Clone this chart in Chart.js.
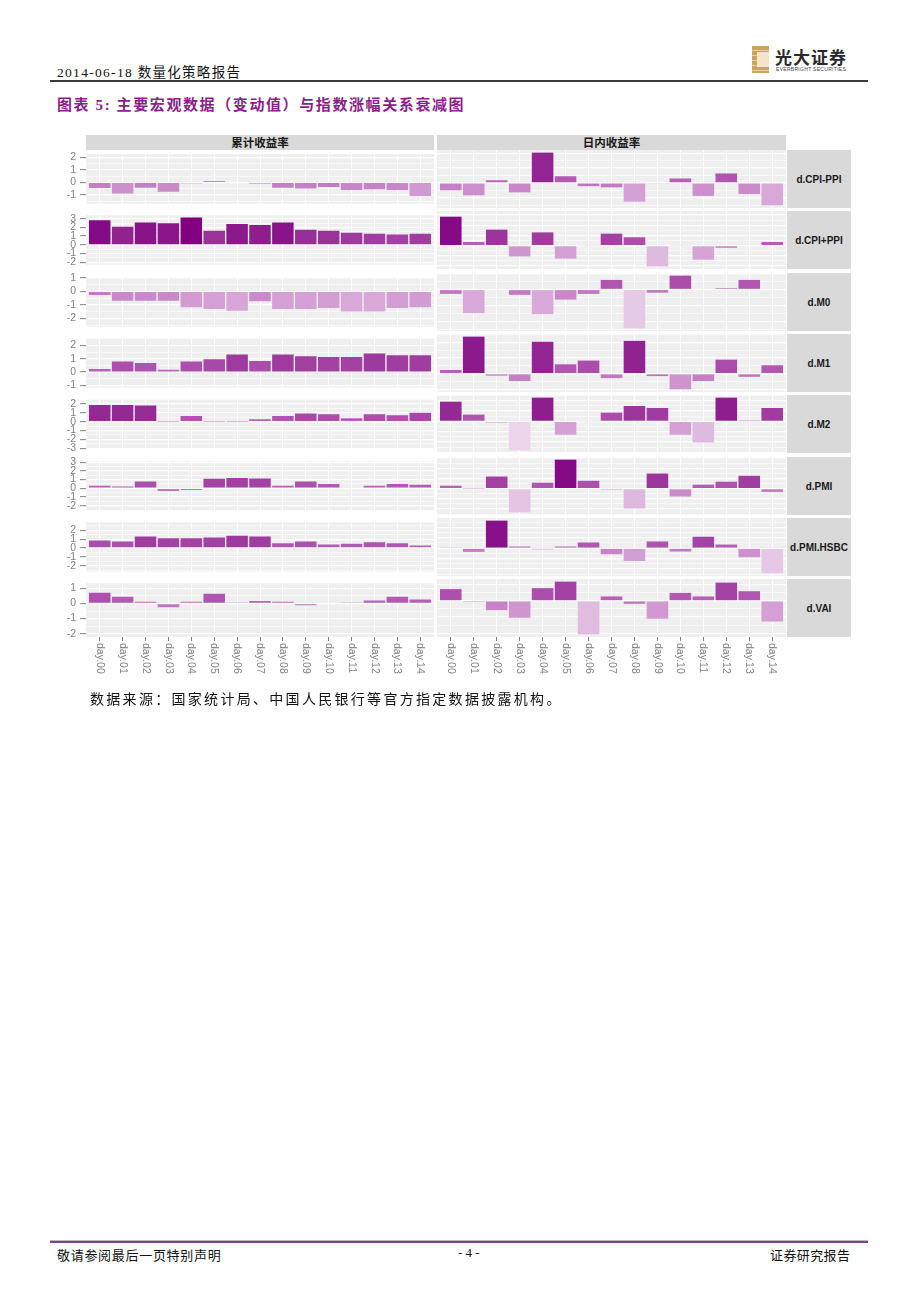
<!DOCTYPE html>
<html>
<head>
<meta charset="utf-8">
<script src="https://cdn.jsdelivr.net/npm/chart.js@4.4.0/dist/chart.umd.min.js"></script>
<style>
  body { margin: 0; background: #fff; }
  #page { position: relative; width: 920px; height: 1302px; overflow: hidden;
          font-family: "Liberation Serif", "Noto Sans CJK SC", serif; color: #111; }
  .abs { position: absolute; white-space: nowrap; }
  .strip { position: absolute; background: #D9D9D9; color: #1a1a1a; font-weight: bold;
           font-family: "Liberation Sans", "Noto Sans CJK SC", sans-serif;
           display: flex; align-items: center; justify-content: center; }
  canvas { position: absolute; }
</style>
</head>
<body>
<div id="page">
  <div class="abs" style="left:57px;top:61px;font-size:13.5px;letter-spacing:1.3px;">2014-06-18 数量化策略报告</div>
  <div class="abs" style="left:752px;top:46px;width:17px;height:27px;background:repeating-linear-gradient(180deg,#C9A45C 0 4px,#E8D3A0 4px 5px);"></div>
  <div class="abs" style="left:757px;top:52px;width:12px;height:15px;background:#F3E6C6;"></div>
  <div class="abs" style="left:775px;top:44px;font-size:17px;font-weight:bold;font-family:'Noto Sans CJK SC';color:#2a2a2a;letter-spacing:1px;">光大证券</div>
  <div class="abs" style="left:776px;top:66px;font-size:5px;font-family:'Liberation Sans';color:#444;letter-spacing:0.3px;">EVERBRIGHT SECURITIES</div>
  <div class="abs" style="left:50px;top:80px;width:818px;height:2px;background:#3a3a3a;"></div>

  <div class="abs" style="left:57px;top:93px;font-size:15px;font-weight:bold;color:#8B1E88;font-family:'Liberation Serif','Noto Sans CJK SC';letter-spacing:1.6px;">图表 5: 主要宏观数据（变动值）与指数涨幅关系衰减图</div>

  <div id="charts"></div>

  <div class="abs" style="left:90px;top:688px;font-size:14px;letter-spacing:2.3px;">数据来源：国家统计局、中国人民银行等官方指定数据披露机构。</div>

  <div class="abs" style="left:50px;top:1240px;width:818px;height:1px;background:#bbb;"></div>
  <div class="abs" style="left:50px;top:1241px;width:818px;height:2px;background:#7B3F9E;"></div>
  <div class="abs" style="left:57px;top:1245px;font-size:13px;letter-spacing:0.7px;">敬请参阅最后一页特别声明</div>
  <div class="abs" style="left:458px;top:1245px;font-size:13px;">- 4 -</div>
  <div class="abs" style="left:770px;top:1245px;font-size:13px;letter-spacing:0.4px;">证券研究报告</div>
</div>

<script>
'use strict';

// ---- data ----
const DAYS = ['day.00','day.01','day.02','day.03','day.04','day.05','day.06','day.07',
              'day.08','day.09','day.10','day.11','day.12','day.13','day.14'];
const COLUMNS = ['累计收益率', '日内收益率'];
const FACTORS = ['d.CPI-PPI','d.CPI+PPI','d.M0','d.M1','d.M2','d.PMI','d.PMI.HSBC','d.VAI'];

const cumCpiMinusPpi = [-0.45,-0.88,-0.43,-0.75,-0.07,0.1,-0.05,-0.1,-0.43,-0.5,-0.38,-0.6,-0.55,-0.6,-1.08];
const dayCpiMinusPpi = [-0.5,-0.84,0.18,-0.64,2.05,0.45,-0.22,-0.3,-1.27,-0.05,0.3,-0.88,0.64,-0.75,-1.52];
const cumCpiPlusPpi  = [2.84,2.09,2.58,2.48,3.14,1.63,2.39,2.29,2.58,1.73,1.63,1.4,1.27,1.18,1.27];
const dayCpiPlusPpi  = [2.84,0.36,1.57,-1.05,1.3,-1.27,0.05,1.18,0.82,-2.03,0.05,-1.37,-0.2,0,0.36];
const cumM0  = [-0.28,-0.7,-0.7,-0.7,-1.17,-1.3,-1.43,-0.74,-1.3,-1.3,-1.23,-1.49,-1.49,-1.23,-1.17];
const dayM0  = [-0.28,-1.49,0,-0.34,-1.55,-0.64,-0.28,0.6,-2.45,-0.2,0.87,0,0.08,0.6,0];
const cumM1  = [0.24,0.8,0.69,0.17,0.8,0.97,1.33,0.84,1.33,1.2,1.14,1.14,1.4,1.27,1.27];
const dayM1  = [0.24,2.37,-0.12,-0.47,2.04,0.6,0.84,-0.28,2.1,-0.15,-1.0,-0.47,0.9,-0.2,0.54];
const cumM2  = [1.9,1.9,1.84,0.04,0.65,0.04,0.04,0.29,0.65,0.94,0.84,0.39,0.84,0.74,1.03];
const dayM2  = [1.9,0.65,-0.1,-2.8,2.29,-1.29,-0.05,0.84,1.48,1.29,-1.29,-2.03,2.29,0.02,1.29];
const cumPmi = [0.29,0.19,0.77,-0.32,-0.19,1.1,1.19,1.13,0.29,0.77,0.48,0.08,0.29,0.48,0.39];
const dayPmi = [0.29,0.03,1.19,-2.32,0.58,2.84,0.77,-0.03,-1.94,1.48,-0.77,0.39,0.68,1.26,-0.32];
const cumPmiHsbc = [0.84,0.74,1.29,1.1,1.1,1.19,1.39,1.29,0.55,0.74,0.39,0.48,0.65,0.55,0.29];
const dayPmiHsbc = [0.05,-0.35,2.65,0.16,-0.1,0.16,0.55,-0.58,-1.23,0.65,-0.32,1.1,0.35,-0.87,-2.42];
const cumVai = [0.72,0.45,0.12,-0.24,0.12,0.65,0.04,0.16,0.12,-0.12,0,0.04,0.2,0.45,0.27];
const dayVai = [0.72,-0.02,-0.57,-1.04,0.78,1.18,-2.06,0.27,-0.18,-1.1,0.49,0.27,1.12,0.59,-1.27];

const CUMULATIVE = [cumCpiMinusPpi, cumCpiPlusPpi, cumM0, cumM1, cumM2, cumPmi, cumPmiHsbc, cumVai];
const INTRADAY   = [dayCpiMinusPpi, dayCpiPlusPpi, dayM0, dayM1, dayM2, dayPmi, dayPmiHsbc, dayVai];

// ---- layout ----
const PANEL_TOP = 150, ROW_PITCH = 61.35, PANEL_H = 58;
const COL_X = [86, 437], COL_W = [348, 349];
const AXIS_W = 46, OVER = 6, X_AXIS_H = 46;
const STRIP_X = 787, STRIP_W = 64;

// fill gradient (low -> high), stops on normalized value
const FILL_STOPS = [
  [0.00, [234,213,234]], [0.22, [216,168,216]], [0.39, [198,128,198]],
  [0.47, [187,107,187]], [0.59, [174, 82,174]], [0.69, [160, 60,160]],
  [0.81, [146, 38,146]], [1.00, [128,  0,128]]
];
const ALL_VALUES = CUMULATIVE.flat().concat(INTRADAY.flat());
const V_MIN = Math.min(...ALL_VALUES), V_MAX = Math.max(...ALL_VALUES);

function fillFor(v) {
  const t = (v - V_MIN) / (V_MAX - V_MIN);
  for (let i = 1; i < FILL_STOPS.length; i++) {
    const [t1, c1] = FILL_STOPS[i];
    const [t0, c0] = FILL_STOPS[i - 1];
    if (t <= t1) {
      const k = (t - t0) / (t1 - t0);
      const c = c0.map((a, j) => Math.round(a + (c1[j] - a) * k));
      return `rgb(${c[0]},${c[1]},${c[2]})`;
    }
  }
  return 'rgb(128,0,128)';
}

// ggplot-style free y per row: data range + 5% each side
function rowRange(r) {
  const all = CUMULATIVE[r].concat(INTRADAY[r]);
  const lo = Math.min(...all), hi = Math.max(...all), pad = (hi - lo) * 0.05;
  return [lo - pad, hi + pad];
}

function halfSteps(lo, hi) {
  const out = [];
  for (let v = Math.ceil(lo * 2) / 2; v <= hi; v += 0.5) out.push({ value: v });
  return out;
}

const panelBg = {
  id: 'panelBg',
  beforeDraw(chart) {
    const { ctx, chartArea: a } = chart;
    ctx.save();
    ctx.fillStyle = '#EFEFEF';
    ctx.fillRect(a.left, a.top, a.width, a.height);
    ctx.restore();
  }
};

// x labels read top-to-bottom (rotated clockwise) like the ggplot original
const dayLabels = {
  id: 'dayLabels',
  afterDraw(chart) {
    const { ctx, chartArea, scales: { x } } = chart;
    ctx.save();
    ctx.fillStyle = '#7f7f7f';
    ctx.font = '10.5px "Liberation Sans"';
    ctx.textAlign = 'left';
    ctx.textBaseline = 'middle';
    DAYS.forEach((d, i) => {
      ctx.save();
      ctx.translate(x.getPixelForValue(i), chartArea.bottom + 6);
      ctx.rotate(Math.PI / 2);
      ctx.fillText(d, 0, 0);
      ctx.restore();
    });
    ctx.restore();
  }
};

const host = document.getElementById('charts');
const page = document.getElementById('page');

function addStrip(text, left, top, width, height, size) {
  const el = document.createElement('div');
  el.className = 'strip';
  Object.assign(el.style, { left: left + 'px', top: top + 'px', width: width + 'px',
                            height: height + 'px', fontSize: size + 'px' });
  el.textContent = text;
  page.appendChild(el);
}

COLUMNS.forEach((c, j) => addStrip(c, COL_X[j], 135, COL_W[j], 14.5, 11.5));

FACTORS.forEach((name, r) => {
  const top = Math.round(PANEL_TOP + r * ROW_PITCH);
  const isBottom = r === FACTORS.length - 1;
  addStrip(name, STRIP_X, top, STRIP_W, PANEL_H, 10);

  [CUMULATIVE[r], INTRADAY[r]].forEach((values, col) => {
    const [lo, hi] = rowRange(r);
    const axisW = col === 0 ? AXIS_W : 0;
    const canvas = document.createElement('canvas');
    const w = COL_W[col] + axisW;
    const h = PANEL_H + OVER + (isBottom ? X_AXIS_H : OVER);
    canvas.width = w; canvas.height = h;
    canvas.style.left = (COL_X[col] - axisW) + 'px';
    canvas.style.top = (top - OVER) + 'px';
    host.appendChild(canvas);

    new Chart(canvas, {
      type: 'bar',
      data: {
        datasets: [{
          data: values.map((v, i) => ({ x: i, y: v })),
          backgroundColor: values.map(fillFor),
          borderWidth: 0,
          barPercentage: 0.94,
          categoryPercentage: 1
        }]
      },
      options: {
        responsive: false, animation: false, devicePixelRatio: 1,
        layout: { padding: { top: OVER, bottom: isBottom ? 0 : OVER, left: 0, right: 0 } },
        plugins: { legend: { display: false }, tooltip: { enabled: false } },
        scales: {
          x: {
            type: 'linear', min: -0.6, max: DAYS.length - 0.4, offset: false,
            afterBuildTicks: s => { s.ticks = DAYS.map((d, i) => ({ value: i })); },
            afterFit: s => { s.height = isBottom ? X_AXIS_H : 0; },
            border: { display: false },
            grid: { offset: false, color: '#ffffff', lineWidth: 1,
                    drawTicks: isBottom, tickLength: 4, tickColor: '#7f7f7f', tickWidth: 1 },
            ticks: { display: false }
          },
          y: {
            min: lo, max: hi,
            afterBuildTicks: s => { s.ticks = halfSteps(lo, hi); },
            afterFit: s => { s.width = axisW; },
            border: { display: false },
            grid: {
              color: '#ffffff',
              lineWidth: c => (Number.isInteger(c.tick && c.tick.value) ? 1.3 : 0.6),
              drawTicks: col === 0, tickLength: 6, tickWidth: 1,
              tickColor: c => (Number.isInteger(c.tick && c.tick.value) ? '#7f7f7f' : 'rgba(0,0,0,0)')
            },
            ticks: {
              display: col === 0, autoSkip: false, padding: 4, color: '#7f7f7f',
              font: { size: 10.5, family: 'Liberation Sans' },
              callback: v => (Number.isInteger(v) ? String(v) : '')
            }
          }
        }
      },
      plugins: isBottom ? [panelBg, dayLabels] : [panelBg]
    });
  });
});
</script>
</body>
</html>
